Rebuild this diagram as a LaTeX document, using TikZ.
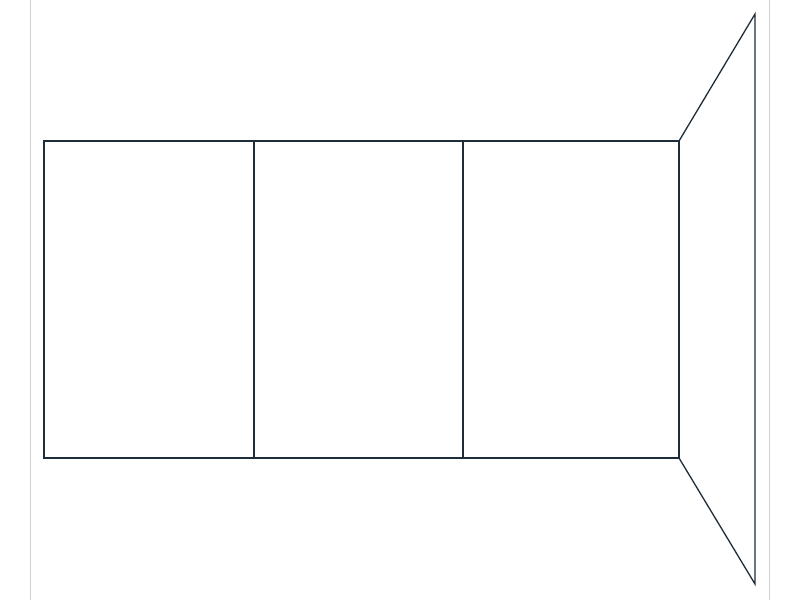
\documentclass[tikz,border=0pt]{standalone}
\begin{document}
\begin{tikzpicture}[x=1pt,y=-1pt,
  wall/.style={draw=ink,line width=1.3pt,line join=miter},
  guide/.style={draw=black!18,line width=1pt}]
\definecolor{ink}{HTML}{1F2D3A}
\useasboundingbox (0,0) rectangle (800,600);
\fill[white] (0,0) rectangle (800,600);
\draw[guide] (30.5,0) -- (30.5,600);
\draw[guide] (769.5,0) -- (769.5,600);
\coordinate (tl) at (44,141);
\coordinate (tr) at (679,141);
\coordinate (br) at (679,458);
\coordinate (bl) at (44,458);
\coordinate (d1t) at (254,141);
\coordinate (d1b) at (254,458);
\coordinate (d2t) at (463,141);
\coordinate (d2b) at (463,458);
\coordinate (ft) at (755,14);
\coordinate (fb) at (755,584);
\draw[wall] (tl) -- (tr) -- (br) -- (bl) -- cycle;
\draw[wall] (d1t) -- (d1b);
\draw[wall] (d2t) -- (d2b);
\draw[wall] (tr) -- (ft) -- (fb) -- (br);
\end{tikzpicture}
\end{document}
